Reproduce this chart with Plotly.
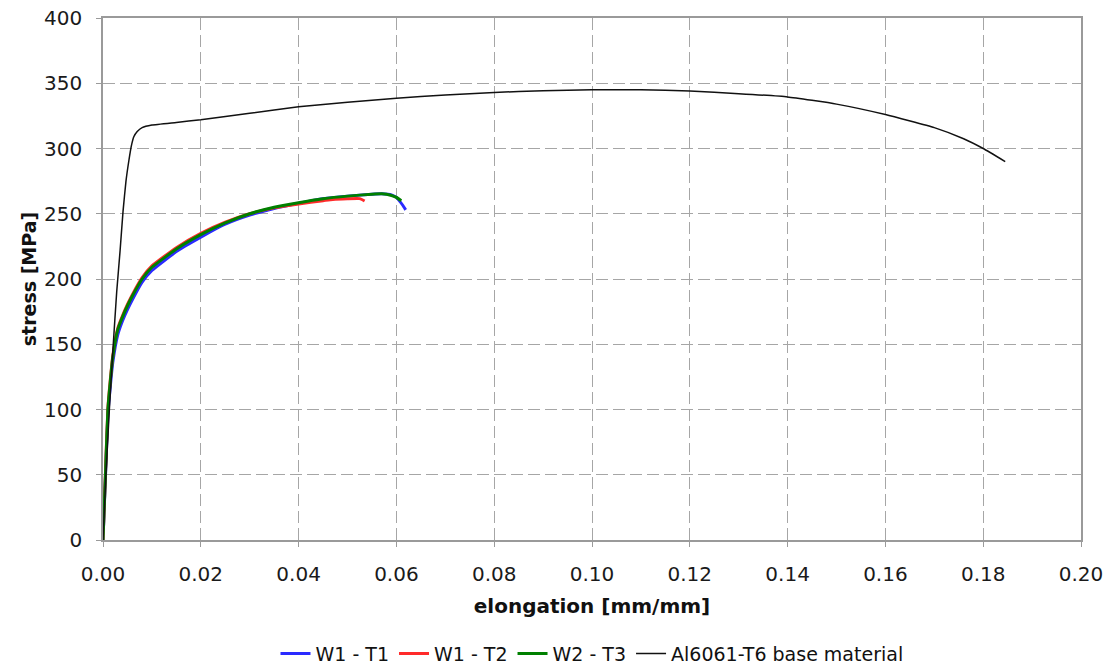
import plotly.graph_objects as go

# Tensile test curves: engineering strain [mm/mm] vs stress [MPa]
strain_w1_t1 = [0, 0.0005, 0.001, 0.0015, 0.002, 0.003, 0.004, 0.005, 0.006, 0.008,
                0.010, 0.015, 0.020, 0.025, 0.030, 0.035, 0.040, 0.045, 0.050, 0.055,
                0.057, 0.059, 0.060, 0.0607, 0.0613, 0.0619]
stress_w1_t1 = [0, 48, 96, 118, 136, 157, 168, 176.5, 184, 197.5,
                206.5, 221, 232, 242, 249, 254, 258, 261.5, 263.5, 265,
                265.3, 264.5, 262.5, 259.5, 256.5, 253]

strain_w1_t2 = [0, 0.0005, 0.001, 0.0015, 0.002, 0.003, 0.004, 0.005, 0.006, 0.008,
                0.010, 0.015, 0.020, 0.025, 0.030, 0.035, 0.040, 0.045, 0.047, 0.050,
                0.0525, 0.0535]
stress_w1_t2 = [0, 51, 101, 123, 141, 162, 172, 180.5, 188, 201,
                210, 224, 235, 243.5, 250, 254.5, 257.5, 260, 261, 261.5,
                261.6, 259.8]

strain_w2_t3 = [0, 0.0005, 0.001, 0.0015, 0.002, 0.003, 0.004, 0.005, 0.006, 0.008,
                0.010, 0.015, 0.020, 0.025, 0.030, 0.035, 0.040, 0.045, 0.050, 0.055,
                0.057, 0.059, 0.060, 0.061]
stress_w2_t3 = [0, 50, 100, 122, 140, 161, 171, 179.5, 187, 200,
                209, 223, 234, 243, 250, 255, 258.5, 261.5, 263.5, 265,
                265.3, 264, 262.5, 260]

strain_base = [0, 0.0006, 0.0013, 0.0021, 0.0028, 0.0035, 0.0041, 0.0047, 0.0053, 0.0058,
               0.0063, 0.0070, 0.0080, 0.010, 0.015, 0.020, 0.030, 0.040, 0.050, 0.060,
               0.070, 0.080, 0.090, 0.100, 0.110, 0.120, 0.130, 0.140, 0.150, 0.160,
               0.170, 0.176, 0.180, 0.1845]
stress_base = [0, 50, 100, 150, 190, 222, 252, 275, 291, 302,
               309, 313, 316, 318, 320, 322, 327, 332, 335.5, 338.5,
               341, 343, 344.3, 345, 345, 344, 342, 339.5, 334, 326,
               316, 307.5, 300, 290]

series = [
    ("W1 - T1", strain_w1_t1, stress_w1_t1, "#2a2aff", 3),
    ("W1 - T2", strain_w1_t2, stress_w1_t2, "#ff2a2a", 3),
    ("W2 - T3", strain_w2_t3, stress_w2_t3, "#008000", 3),
    ("Al6061-T6 base material", strain_base, stress_base, "#111111", 1.5),
]

fig = go.Figure()
for name, x, y, color, width in series:
    fig.add_trace(go.Scatter(
        x=x, y=y, name=name, mode="lines",
        line=dict(color=color, width=width, shape="spline", smoothing=0.4),
    ))

FONT = "DejaVu Sans"
axis_style = dict(showgrid=True, gridcolor="#a6a6a6", gridwidth=1.3, griddash="12px,5px",
                  showline=True, linecolor="#9a9a9a", linewidth=1.5, mirror=True,
                  ticks="outside", ticklen=5, tickcolor="#9a9a9a", zeroline=False,
                  automargin=False,
                  tickfont=dict(family=FONT, size=20, color="#1a1a1a"))

fig.update_xaxes(range=[0, 0.2], dtick=0.02, tick0=0, tickformat=".2f",
                 ticklabelstandoff=10,
                 title=dict(text="<b>elongation [mm/mm]</b>", standoff=14,
                            font=dict(family=FONT, size=20, color="#111")),
                 **axis_style)
fig.update_yaxes(range=[0, 400], dtick=50, tick0=0,
                 ticklabelstandoff=10,
                 title=dict(text="<b>stress [MPa]</b>", standoff=2,
                            font=dict(family=FONT, size=19, color="#111")),
                 **axis_style)

fig.update_layout(
    width=1117, height=671,
    margin=dict(l=103, r=36, t=18, b=131),
    paper_bgcolor="white", plot_bgcolor="white",
    font=dict(family=FONT, size=19, color="#111"),
    showlegend=True,
    legend=dict(orientation="h", x=0.5, xanchor="center",
                yref="container", y=0.026, yanchor="middle",
                font=dict(family=FONT, size=19, color="#111"),
                itemwidth=30, tracegroupgap=0, bgcolor="rgba(0,0,0,0)"),
)

fig.write_html("out.html")
